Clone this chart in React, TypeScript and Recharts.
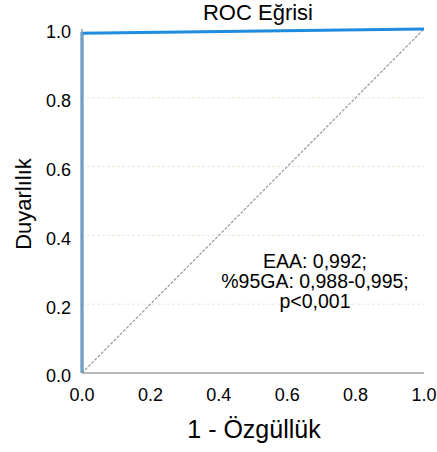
import React from "react";
import {
  LineChart,
  Line,
  XAxis,
  YAxis,
  CartesianGrid,
  Customized,
} from "recharts";

const rocFpr = [0, 0, 1];
const rocTpr = [0, 0.988, 1];
const refFpr = [0, 1];
const refTpr = [0, 1];
const axisTicks = [0, 0.2, 0.4, 0.6, 0.8, 1.0];
const gridTicks = [0.2, 0.4, 0.6, 0.8];
const titleText = "ROC Eğrisi";
const xLabelText = "1 - Özgüllük";
const yLabelText = "Duyarlılık";
const annotationLines = ["EAA: 0,992;", "%95GA: 0,988-0,995;", "p<0,001"];

const rocData = rocFpr.map((x, i) => ({ x, y: rocTpr[i] }));
const refData = refFpr.map((x, i) => ({ x, y: refTpr[i] }));

const FONT = "'Liberation Sans', Arial, sans-serif";

const Texts = () => (
  <g fontFamily={FONT} fill="#000">
    <text x={258} y={20} textAnchor="middle" fontSize={22}>
      {titleText}
    </text>
    <text x={254} y={438} textAnchor="middle" fontSize={25}>
      {xLabelText}
    </text>
    <text
      x={0}
      y={0}
      textAnchor="middle"
      fontSize={22}
      transform="translate(31,204) rotate(-90)"
    >
      {yLabelText}
    </text>
    {annotationLines.map((t, i) => (
      <text key={i} x={315} y={268 + i * 20} textAnchor="middle" fontSize={19.5}>
        {t}
      </text>
    ))}
  </g>
);

const YTick = (props: any) => {
  const { x, y, payload } = props;
  return (
    <text
      x={x}
      y={y + 3}
      dy="0.355em"
      textAnchor="end"
      fontSize={18}
      fontFamily={FONT}
      fill="#000"
    >
      {Number(payload.value).toFixed(1)}
    </text>
  );
};

const XTick = (props: any) => {
  const { x, y, payload } = props;
  return (
    <text
      x={x}
      y={y}
      dy="0.71em"
      textAnchor="middle"
      fontSize={18}
      fontFamily={FONT}
      fill="#000"
    >
      {Number(payload.value).toFixed(1)}
    </text>
  );
};

export default function App() {
  return (
    <div style={{ position: "absolute", left: 0, top: 0, background: "#fff" }}>
      <LineChart
        width={437}
        height={452}
        margin={{ top: 29, right: 13, bottom: 0, left: 42 }}
      >
        <CartesianGrid
          horizontal={true}
          vertical={false}
          horizontalValues={gridTicks}
          stroke="#ede8d6"
          strokeDasharray="3 2"
        />
        <XAxis
          type="number"
          dataKey="x"
          domain={[0, 1]}
          ticks={axisTicks}
          tickLine={false}
          axisLine={{ stroke: "#a0a0a0", strokeWidth: 1.5 }}
          tick={<XTick />}
          tickMargin={9}
          height={79}
          allowDuplicatedCategory={false}
        />
        <YAxis
          type="number"
          dataKey="y"
          domain={[0, 1]}
          ticks={axisTicks}
          tickLine={false}
          axisLine={{ stroke: "#a0a0a0", strokeWidth: 1.5 }}
          tick={<YTick />}
          tickMargin={5}
          width={40}
        />
        <Line
          data={refData}
          dataKey="y"
          type="linear"
          stroke="#999999"
          strokeWidth={1.2}
          strokeDasharray="3 1.5"
          dot={false}
          isAnimationActive={false}
        />
        <Line
          data={rocData}
          dataKey="y"
          type="linear"
          stroke="#1f8ce0"
          strokeWidth={3}
          dot={false}
          isAnimationActive={false}
        />
        <Customized component={Texts} />
      </LineChart>
    </div>
  );
}
